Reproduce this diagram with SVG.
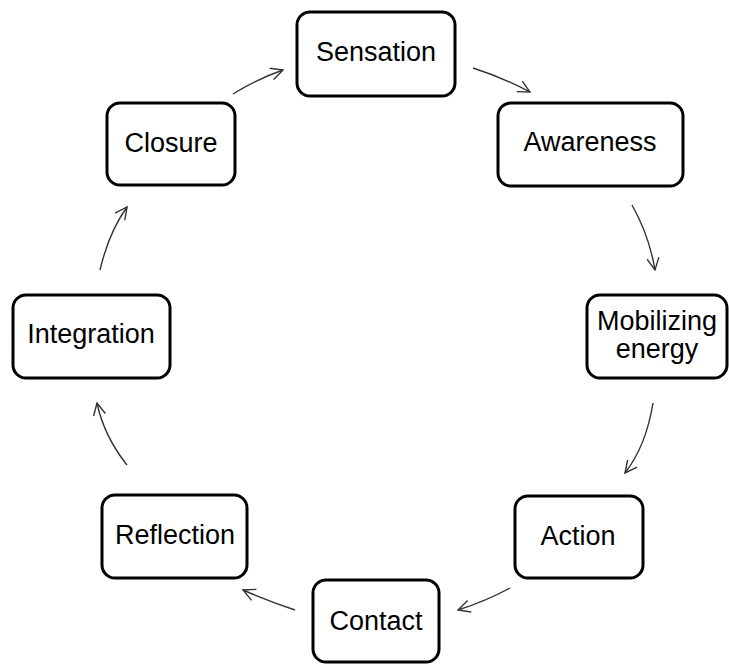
<svg xmlns="http://www.w3.org/2000/svg" width="729" height="666" viewBox="0 0 729 666">
<style>
.box{fill:#fff;stroke:#000;stroke-width:3}
.lbl{font-family:"Liberation Sans",Arial,sans-serif;font-size:27px;fill:#000;text-anchor:middle}
.conn{fill:none;stroke:#333;stroke-width:1.4;marker-end:url(#ah)}
</style>
<defs>
<marker id="ah" viewBox="0 0 14 14" refX="13" refY="7" markerWidth="14" markerHeight="14" markerUnits="userSpaceOnUse" orient="auto">
<path d="M1,1 L13,7 L1,13" fill="none" stroke="#333" stroke-width="1.4"/>
</marker>
</defs>
<rect width="729" height="666" fill="#fff"/>
<g id="connectors">
<path class="conn" d="M233,94 Q257,79 283,70"/>
<path class="conn" d="M473,68 Q504,78 530,92"/>
<path class="conn" d="M632,205 Q649,235 655,270"/>
<path class="conn" d="M653,403 Q646,446 625,473"/>
<path class="conn" d="M510,588 Q486,601 458,610"/>
<path class="conn" d="M295,610 Q268,601 243,590"/>
<path class="conn" d="M127,465 Q104,436 97,403"/>
<path class="conn" d="M100,270 Q109,232 127,207"/>
</g>
<g id="sensation"><rect class="box" x="297" y="12" width="158" height="84" rx="13"/><text class="lbl" x="376" y="61">Sensation</text></g>
<g id="awareness"><rect class="box" x="498" y="103" width="185" height="83" rx="13"/><text class="lbl" x="590" y="151">Awareness</text></g>
<g id="mobilizing"><rect class="box" x="587" y="295" width="140" height="83" rx="13"/><text class="lbl" x="657" y="330">Mobilizing</text><text class="lbl" x="657" y="358">energy</text></g>
<g id="action"><rect class="box" x="515" y="496" width="128" height="82" rx="13"/><text class="lbl" x="578" y="545">Action</text></g>
<g id="contact"><rect class="box" x="313" y="580" width="126" height="82" rx="13"/><text class="lbl" x="376" y="630">Contact</text></g>
<g id="reflection"><rect class="box" x="102" y="495" width="145" height="83" rx="13"/><text class="lbl" x="175" y="544">Reflection</text></g>
<g id="integration"><rect class="box" x="13" y="295" width="157" height="83" rx="13"/><text class="lbl" x="91" y="343">Integration</text></g>
<g id="closure"><rect class="box" x="107" y="103" width="128" height="82" rx="13"/><text class="lbl" x="171" y="152">Closure</text></g>
</svg>
